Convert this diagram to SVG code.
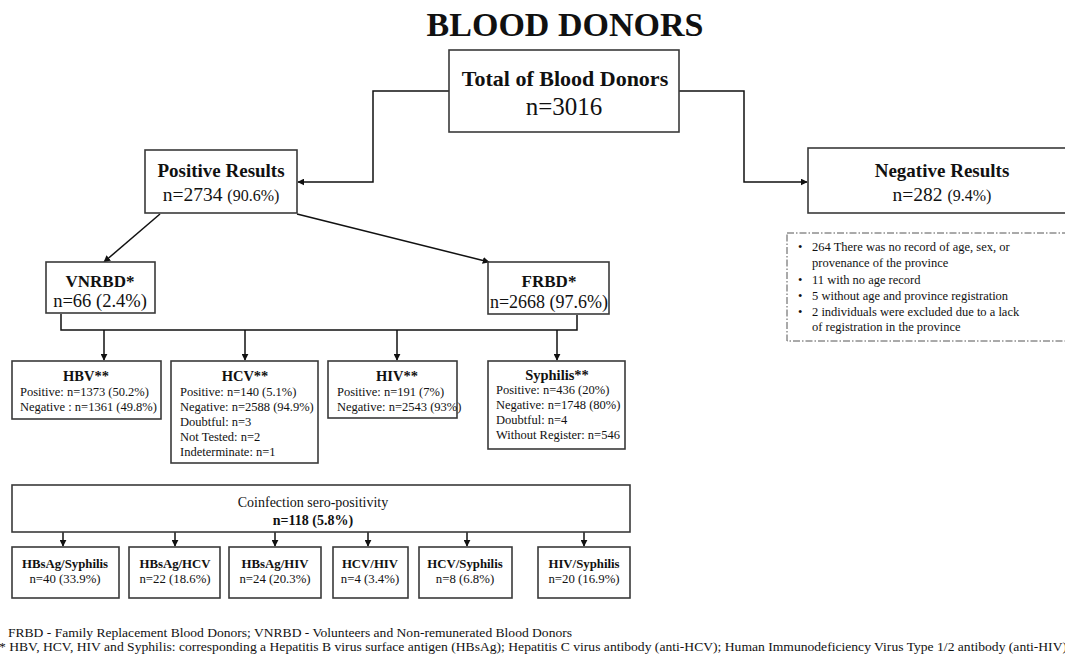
<svg xmlns="http://www.w3.org/2000/svg" width="1065" height="655" viewBox="0 0 1065 655">
<style>
text{font-family:"Liberation Serif","Times New Roman",serif;fill:#111}
.box{fill:#fff;stroke:#3a3a3a;stroke-width:1.6}
.b{font-weight:bold}
.c{text-anchor:middle}
.ln{fill:none;stroke:#111;stroke-width:1.5}
.sm{font-size:12.5px}
.ti{font-size:14.5px;font-weight:bold}
.co{font-size:12.8px}
</style>
<defs>
<marker id="ah" viewBox="0 0 10 10" refX="9" refY="5" markerWidth="7" markerHeight="7" markerUnits="userSpaceOnUse" orient="auto">
<path d="M0,0 L10,5 L0,10 z" fill="#111"/>
</marker>
</defs>
<rect width="1065" height="655" fill="#fff"/>
<text x="565" y="36" class="c b" font-size="34">BLOOD DONORS</text>

<g id="connectors">
<path class="ln" d="M449,91 H373 V182 H298" marker-end="url(#ah)" stroke-width="2"/>
<path class="ln" d="M679,91 H744 V182 H807" marker-end="url(#ah)" stroke-width="2"/>
<path class="ln" d="M160,214 L104,262" marker-end="url(#ah)"/>
<path class="ln" d="M297,214 L489,262" marker-end="url(#ah)"/>
<path class="ln" d="M61,314 V330 H577 V315" stroke="#555" stroke-width="1.3"/>
<path class="ln" d="M104,330 V360" marker-end="url(#ah)"/>
<path class="ln" d="M245,330 V360" marker-end="url(#ah)"/>
<path class="ln" d="M397,330 V360" marker-end="url(#ah)"/>
<path class="ln" d="M557,330 V360" marker-end="url(#ah)"/>
<path class="ln" d="M63,532 V546" marker-end="url(#ah)"/>
<path class="ln" d="M175,532 V546" marker-end="url(#ah)"/>
<path class="ln" d="M275,532 V546" marker-end="url(#ah)"/>
<path class="ln" d="M368,532 V546" marker-end="url(#ah)"/>
<path class="ln" d="M467,532 V546" marker-end="url(#ah)"/>
<path class="ln" d="M584,532 V546" marker-end="url(#ah)"/>
</g>

<g id="total">
<rect class="box" x="449" y="50" width="230" height="82"/>
<text x="565" y="86" class="c b" font-size="22">Total of Blood Donors</text>
<text x="564" y="115" class="c" font-size="25">n=3016</text>
</g>

<g id="positive">
<rect class="box" x="145" y="150" width="152" height="63"/>
<text x="221" y="177" class="c b" font-size="19">Positive Results</text>
<text x="221" y="201" class="c" font-size="19.5">n=2734 <tspan font-size="16">(90.6%)</tspan></text>
</g>

<g id="negative">
<rect class="box" x="808" y="148" width="270" height="65"/>
<text x="942" y="177" class="c b" font-size="19">Negative Results</text>
<text x="942" y="201" class="c" font-size="19.5">n=282 <tspan font-size="16">(9.4%)</tspan></text>
</g>

<g id="notes">
<rect x="787" y="233" width="290" height="108" fill="none" stroke="#555" stroke-width="1" stroke-dasharray="7,2,1.5,2"/>
<text class="sm" x="798" y="251">•</text>
<text class="sm" x="812" y="251">264 There was no record of age, sex, or</text>
<text class="sm" x="812" y="267">provenance of the province</text>
<text class="sm" x="798" y="284">•</text>
<text class="sm" x="812" y="284">11  with no age record</text>
<text class="sm" x="798" y="300">•</text>
<text class="sm" x="812" y="300">5 without age and province registration</text>
<text class="sm" x="798" y="316">•</text>
<text class="sm" x="812" y="316">2 individuals were excluded due to a lack</text>
<text class="sm" x="812" y="331">of registration in the province</text>
</g>

<g id="vnrbd">
<rect class="box" x="46" y="262" width="109" height="51"/>
<text x="100" y="287" class="c b" font-size="17">VNRBD*</text>
<text x="100" y="307" class="c" font-size="18.5">n=66 (2.4%)</text>
</g>

<g id="frbd">
<rect class="box" x="488" y="262" width="121" height="52"/>
<text x="549" y="287" class="c b" font-size="17">FRBD*</text>
<text x="549" y="308" class="c" font-size="18">n=2668 (97.6%)</text>
</g>

<g id="hbv">
<rect class="box" x="12" y="361" width="149" height="58"/>
<text x="86" y="381" class="c ti">HBV**</text>
<text class="sm" x="20" y="396">Positive: n=1373 (50.2%)</text>
<text class="sm" x="20" y="411">Negative : n=1361 (49.8%)</text>
</g>

<g id="hcv">
<rect class="box" x="171" y="361" width="147" height="102"/>
<text x="245" y="381" class="c ti">HCV**</text>
<text class="sm" x="180" y="396">Positive: n=140 (5.1%)</text>
<text class="sm" x="180" y="411">Negative: n=2588 (94.9%)</text>
<text class="sm" x="180" y="426">Doubtful: n=3</text>
<text class="sm" x="180" y="441">Not Tested: n=2</text>
<text class="sm" x="180" y="456">Indeterminate: n=1</text>
</g>

<g id="hiv">
<rect class="box" x="328" y="361" width="129" height="57"/>
<text x="397" y="381" class="c ti">HIV**</text>
<text class="sm" x="337" y="396">Positive: n=191 (7%)</text>
<text class="sm" x="337" y="411">Negative: n=2543 (93%)</text>
</g>

<g id="syphilis">
<rect class="box" x="488" y="361" width="137" height="88"/>
<text x="557" y="380" class="c ti">Syphilis**</text>
<text class="sm" x="496" y="394">Positive: n=436 (20%)</text>
<text class="sm" x="496" y="409">Negative: n=1748 (80%)</text>
<text class="sm" x="496" y="424">Doubtful: n=4</text>
<text class="sm" x="496" y="439">Without Register: n=546</text>
</g>

<g id="coinfection">
<rect class="box" x="12" y="485" width="618" height="47"/>
<text x="313" y="507" class="c" font-size="14">Coinfection sero-positivity</text>
<text x="313" y="525" class="c b" font-size="14">n=118 (5.8%)</text>
</g>

<g id="hbsag-syphilis">
<rect class="box" x="12" y="547" width="107" height="51"/>
<text x="65" y="568" class="c b co">HBsAg/Syphilis</text>
<text x="65" y="583" class="c co">n=40 (33.9%)</text>
</g>
<g id="hbsag-hcv">
<rect class="box" x="129" y="547" width="91" height="51"/>
<text x="175" y="568" class="c b co">HBsAg/HCV</text>
<text x="175" y="583" class="c co">n=22 (18.6%)</text>
</g>
<g id="hbsag-hiv">
<rect class="box" x="229" y="547" width="92" height="51"/>
<text x="275" y="568" class="c b co">HBsAg/HIV</text>
<text x="275" y="583" class="c co">n=24 (20.3%)</text>
</g>
<g id="hcv-hiv">
<rect class="box" x="333" y="547" width="75" height="51"/>
<text x="370" y="568" class="c b co">HCV/HIV</text>
<text x="370" y="583" class="c co">n=4 (3.4%)</text>
</g>
<g id="hcv-syphilis">
<rect class="box" x="419" y="547" width="93" height="51"/>
<text x="465" y="568" class="c b co">HCV/Syphilis</text>
<text x="465" y="583" class="c co">n=8 (6.8%)</text>
</g>
<g id="hiv-syphilis">
<rect class="box" x="538" y="547" width="92" height="51"/>
<text x="584" y="568" class="c b co">HIV/Syphilis</text>
<text x="584" y="583" class="c co">n=20 (16.9%)</text>
</g>

<g id="footnotes">
<text x="8" y="637" font-size="12.5" textLength="564" lengthAdjust="spacingAndGlyphs">FRBD - Family Replacement Blood Donors; VNRBD - Volunteers and Non-remunerated Blood Donors</text>
<text x="-1" y="651" font-size="12.5" textLength="1068" lengthAdjust="spacingAndGlyphs">* HBV, HCV, HIV and Syphilis: corresponding a Hepatitis B virus surface antigen (HBsAg); Hepatitis C virus antibody (anti-HCV); Human Immunodeficiency Virus Type 1/2 antibody (anti-HIV)</text>
</g>
</svg>
